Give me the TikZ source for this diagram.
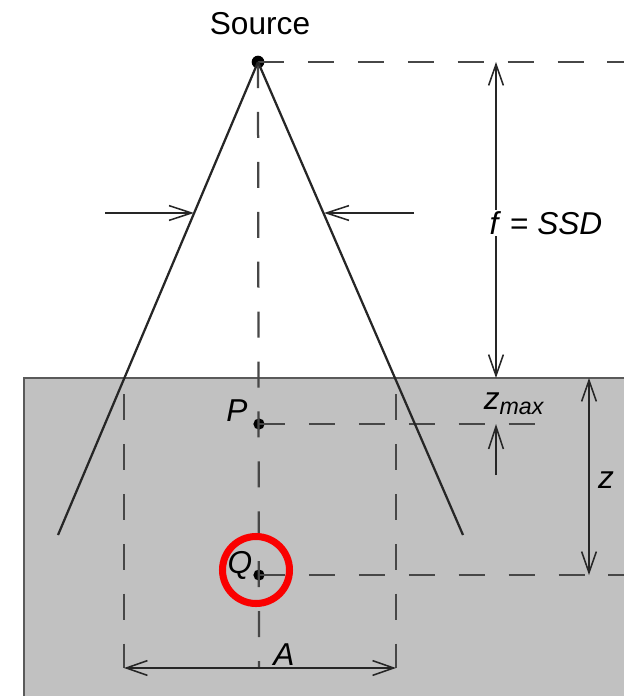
\documentclass[tikz,border=0pt]{standalone}
\usepackage{fontspec}
\setmainfont{Liberation Sans}
\usetikzlibrary{positioning,arrows.meta}

\definecolor{phantomgray}{RGB}{193,193,193}
\definecolor{edgegray}{RGB}{90,90,90}
\definecolor{markred}{RGB}{250,0,0}

\begin{document}
\begin{tikzpicture}[
    x=0.025cm, y=-0.025cm,
    lbl/.style={font=\fontsize{22.5}{25}\selectfont, inner sep=1pt},
    beam/.style={line width=1.6pt, draw=black!85},
    guide/.style={line width=1.6pt, draw=black!72, dash pattern=on 18.5pt off 17pt},
    dim/.style={line width=1.1pt, draw=black!85, <->,
                >={Straight Barb[length=15pt,width=10.5pt]}},
    pointer/.style={line width=1.1pt, draw=black!85, ->,
                >={Straight Barb[length=16pt,width=10.5pt]}},
    dot/.style={circle, fill=black, inner sep=0pt, minimum size=8pt},
    ring/.style={draw=markred, line width=5pt}
]
\useasboundingbox (0,0) rectangle (624,696);

% Phantom
\fill[phantomgray] (24,378) rectangle (624,696);
\draw[edgegray, line width=1.5pt] (624,378) -- (24,378) -- (24,696);

% Points
\node[dot, minimum size=9pt] (src) at (258,62) {};
\node[dot] (P) at (259,424) {};
\node[dot] (Q) at (259,575) {};

\coordinate (srcR) at (624,62);
\coordinate (pR) at (535,424);
\coordinate (qR) at (624,575);
\coordinate (aL) at (124,668);
\coordinate (aR) at (396,668);
\coordinate (aC) at (259,668);
\coordinate (vL) at (124,394);
\coordinate (vR) at (396,394);
\coordinate (bL) at (58,535);
\coordinate (bR) at (463,535);

% Guide lines
\draw[guide] (src.center) -- (srcR);
\draw[guide] (src.center) -- (aC);
\draw[guide] (P.center) -- (pR);
\draw[guide] (Q.center) -- (qR);
\draw[guide] (vL) -- (aL);
\draw[guide] (vR) -- (aR);

% Beam edges
\draw[beam] (src.center) -- (bL);
\draw[beam] (src.center) -- (bR);

% Beam width arrows
\coordinate (wL) at (105,213);
\coordinate (wLe) at (194,213);
\coordinate (wR) at (414,213);
\coordinate (wRe) at (324,213);
\draw[pointer] (wL) -- (wLe);
\draw[pointer] (wR) -- (wRe);

% Dimensions
\coordinate (fT) at (496,62);
\coordinate (fB) at (496,378);
\coordinate (mB) at (496,475);
\coordinate (mT) at (496,424);
\coordinate (zT) at (589,378);
\coordinate (zB) at (589,575);
\draw[dim] (fT) -- (fB);
\draw[pointer] (mB) -- (mT);
\draw[dim] (zT) -- (zB);
\draw[dim] (aL) -- (aR);

% Labels
\node[lbl] (srclabel) at (260,24) {Source};
\node[lbl, fill=white] (flabel) at (546,223) {\textit{f} = \textit{SSD}};
\node[lbl] (zmaxlabel) at (514,404) {\textit{z}\raisebox{-0.3ex}{\fontsize{16.5}{18}\selectfont\textit{max}}};
\node[lbl] (zlabel) at (606,480) {\textit{z}};
\node[lbl] (plabel) at (237,411) {\textit{P}};
\node[lbl] (qlabel) at (240,565) {\textit{Q}};
\node[lbl] (alabel) at (284,655) {\textit{A}};

% Marked point
\draw[ring] (256,570) circle[radius=33.5];

\end{tikzpicture}
\end{document}
